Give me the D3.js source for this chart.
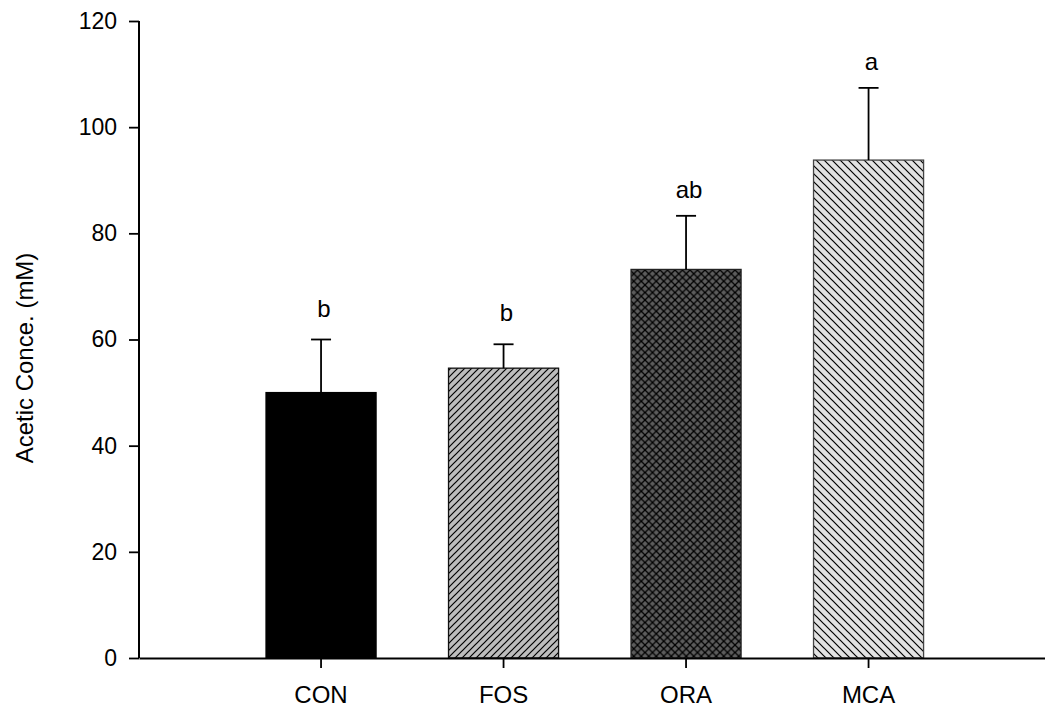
<!DOCTYPE html>
<html>
<head>
<meta charset="utf-8">
<script src="https://cdn.jsdelivr.net/npm/d3@7"></script>
<style>
  html, body { margin: 0; padding: 0; background: #fff; }
  svg { display: block; }
  text { font-family: "Liberation Sans", Arial, sans-serif; fill: #000; }
</style>
</head>
<body>
<svg id="chart" width="1045" height="711"></svg>
<script>
const categories = ["CON", "FOS", "ORA", "MCA"];
const means = [50, 54.6, 73.2, 93.8];
const errors = [10, 4.5, 10.1, 13.6];
const letters = ["b", "b", "ab", "a"];
const letterValues = [64.3, 63.5, 86.6, 110.8];
const yTicks = [0, 20, 40, 60, 80, 100, 120];
const yLabel = "Acetic Conce. (mM)";

const svg = d3.select("#chart");
const defs = svg.append("defs");

function hatch(id, bg, dirs, size, sw) {
  const p = defs.append("pattern").attr("id", id)
    .attr("patternUnits", "userSpaceOnUse")
    .attr("width", size).attr("height", size);
  p.append("rect").attr("width", size).attr("height", size).attr("fill", bg);
  dirs.forEach(d => {
    const path = d === "/"
      ? `M0,${size} L${size},0 M${-size/2},${size/2} L${size/2},${-size/2} M${size/2},${size*1.5} L${size*1.5},${size/2}`
      : `M0,0 L${size},${size} M${-size/2},${size/2} L${size/2},${size*1.5} M${size/2},${-size/2} L${size*1.5},${size/2}`;
    p.append("path").attr("d", path)
      .attr("stroke", "#000").attr("stroke-width", sw);
  });
}
hatch("pFOS", "#bdbdbd", ["/"], 7, 1.2);
hatch("pORA", "#5c5c5c", ["/", "\\"], 7.5, 1.3);
hatch("pMCA", "#e2e2e2", ["\\"], 8, 1.2);
const fills = ["#000000", "url(#pFOS)", "url(#pORA)", "url(#pMCA)"];
const strokes = ["#000", "#111", "#222", "#444"];

const x = d3.scaleBand().domain(categories)
  .range([139, 1050.6]).paddingInner(0.397).paddingOuter(0.696);
const y = d3.scaleLinear().domain([0, 120]).range([658, 21]);

const data = categories.map((c, i) => ({ c, m: means[i], e: errors[i], l: letters[i], lv: letterValues[i], i }));

svg.append("g").selectAll("rect").data(data).join("rect")
  .attr("x", d => x(d.c))
  .attr("y", d => y(d.m))
  .attr("width", x.bandwidth())
  .attr("height", d => y(0) - y(d.m))
  .attr("fill", d => fills[d.i])
  .attr("stroke", d => strokes[d.i])
  .attr("stroke-width", 1.3);

const eb = svg.append("g").attr("stroke", "#000").attr("stroke-width", 1.8);
data.forEach(d => {
  const cx = x(d.c) + x.bandwidth() / 2;
  eb.append("line").attr("x1", cx).attr("x2", cx).attr("y1", y(d.m)).attr("y2", y(d.m + d.e));
  eb.append("line").attr("x1", cx - 10).attr("x2", cx + 10).attr("y1", y(d.m + d.e)).attr("y2", y(d.m + d.e));
});

svg.append("g").selectAll("text").data(data).join("text")
  .attr("x", d => x(d.c) + x.bandwidth() / 2 + 3)
  .attr("y", d => y(d.lv))
  .attr("text-anchor", "middle")
  .attr("font-size", 24)
  .attr("fill", "#222")
  .text(d => d.l);

const yAxis = svg.append("g").attr("transform", "translate(139,0)")
  .call(d3.axisLeft(y).tickValues(yTicks).tickSize(10).tickPadding(12));
yAxis.select(".domain").attr("stroke-width", 2).attr("d", `M0,${y(120)}V${y(0)}`);
yAxis.selectAll(".tick line").attr("stroke-width", 1.8);
yAxis.selectAll(".tick text").attr("font-size", 23).attr("font-family", "Liberation Sans, Arial, sans-serif").attr("fill", "#000");

const xAxis = svg.append("g").attr("transform", `translate(0,${y(0)})`)
  .call(d3.axisBottom(x).tickSize(10).tickPadding(18).tickSizeOuter(0));
xAxis.select(".domain").attr("stroke-width", 2);
xAxis.selectAll(".tick line").attr("stroke-width", 1.8);
xAxis.selectAll(".tick text").attr("font-size", 24).attr("font-family", "Liberation Sans, Arial, sans-serif").attr("fill", "#000");

svg.append("text")
  .attr("transform", `translate(33,358) rotate(-90)`)
  .attr("text-anchor", "middle")
  .attr("font-size", 24)
  .attr("fill", "#222")
  .text(yLabel);
</script>
</body>
</html>
